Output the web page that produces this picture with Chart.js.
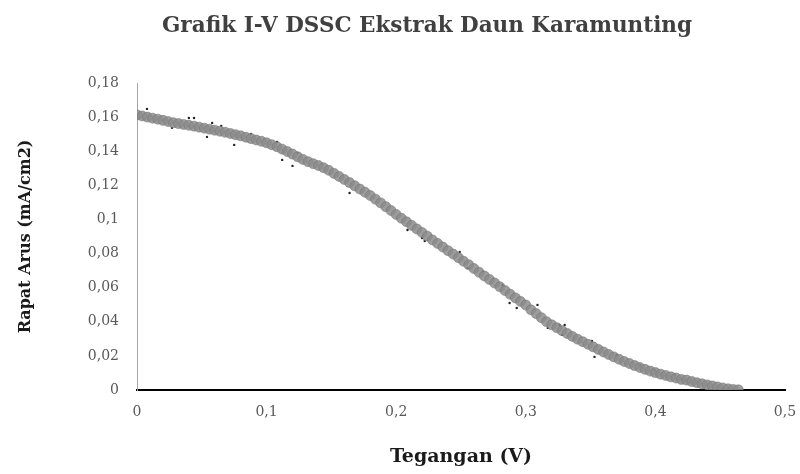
<!DOCTYPE html>
<html>
<head>
<meta charset="utf-8">
<script src="https://cdn.jsdelivr.net/npm/chart.js@4/dist/chart.umd.min.js"></script>
<style>
  html, body { margin: 0; padding: 0; background: #ffffff; }
  #wrap { width: 800px; height: 474px; }
</style>
</head>
<body>
<div id="wrap"><canvas id="c" width="800" height="474"></canvas></div>
<script>
// Title and axis texts
const chartTitle = 'Grafik I-V DSSC Ekstrak Daun Karamunting';
const xTitle = 'Tegangan (V)';
const yTitle = 'Rapat Arus (mA/cm2)';

// Tick values
const xTicks = [0, 0.1, 0.2, 0.3, 0.4, 0.5];
const yTicks = [0, 0.02, 0.04, 0.06, 0.08, 0.1, 0.12, 0.14, 0.16, 0.18];

// Measured I-V points (voltage in V, current density in mA/cm2)
const voltage = [
  0.000, 0.004, 0.008, 0.012, 0.016, 0.020, 0.024, 0.028, 0.032, 0.036,
  0.040, 0.044, 0.048, 0.052, 0.056, 0.060, 0.064, 0.068, 0.072, 0.076,
  0.080, 0.084, 0.088, 0.092, 0.096, 0.100, 0.104, 0.108, 0.112, 0.116,
  0.120, 0.124, 0.128, 0.132, 0.136, 0.140, 0.144, 0.148, 0.152, 0.156,
  0.160, 0.164, 0.168, 0.172, 0.176, 0.180, 0.184, 0.188, 0.192, 0.196,
  0.200, 0.204, 0.208, 0.212, 0.216, 0.220, 0.224, 0.228, 0.232, 0.236,
  0.240, 0.244, 0.248, 0.252, 0.256, 0.260, 0.264, 0.268, 0.272, 0.276,
  0.280, 0.284, 0.288, 0.292, 0.296, 0.300, 0.304, 0.308, 0.312, 0.316,
  0.320, 0.324, 0.328, 0.332, 0.336, 0.340, 0.344, 0.348, 0.352, 0.356,
  0.360, 0.364, 0.368, 0.372, 0.376, 0.380, 0.384, 0.388, 0.392, 0.396,
  0.400, 0.404, 0.408, 0.412, 0.416, 0.420, 0.424, 0.428, 0.432, 0.436,
  0.440, 0.444, 0.448, 0.452, 0.456, 0.460, 0.464
];
const current = [
  0.1613, 0.1607, 0.1600, 0.1594, 0.1588, 0.1581, 0.1574, 0.1567, 0.1562, 0.1557,
  0.1552, 0.1547, 0.1541, 0.1535, 0.1529, 0.1523, 0.1517, 0.1511, 0.1504, 0.1497,
  0.1490, 0.1482, 0.1474, 0.1466, 0.1458, 0.1449, 0.1438, 0.1426, 0.1412, 0.1398,
  0.1383, 0.1367, 0.1352, 0.1339, 0.1327, 0.1316, 0.1303, 0.1288, 0.1270, 0.1252,
  0.1234, 0.1216, 0.1197, 0.1178, 0.1159, 0.1140, 0.1119, 0.1097, 0.1075, 0.1052,
  0.1029, 0.1007, 0.0986, 0.0965, 0.0944, 0.0923, 0.0902, 0.0880, 0.0859, 0.0838,
  0.0817, 0.0797, 0.0776, 0.0755, 0.0734, 0.0712, 0.0690, 0.0669, 0.0648, 0.0627,
  0.0605, 0.0583, 0.0561, 0.0540, 0.0519, 0.0498, 0.0470, 0.0448, 0.0424, 0.0400,
  0.0382, 0.0365, 0.0348, 0.0331, 0.0314, 0.0298, 0.0283, 0.0268, 0.0253, 0.0238,
  0.0223, 0.0208, 0.0194, 0.0180, 0.0167, 0.0155, 0.0143, 0.0132, 0.0121, 0.0111,
  0.0102, 0.0093, 0.0085, 0.0077, 0.0070, 0.0062, 0.0058, 0.0050, 0.0043, 0.0036,
  0.0030, 0.0024, 0.0018, 0.0012, 0.0007, 0.0003, 0.0001
];

// Darker specks visible along the band
const speckV = [0.0077, 0.027, 0.040, 0.044, 0.058, 0.065, 0.054, 0.075, 0.088, 0.108,
  0.112, 0.124, 0.120, 0.164, 0.2087, 0.220, 0.222, 0.249, 0.255, 0.267,
  0.282, 0.309, 0.2875, 0.293, 0.326, 0.330, 0.317, 0.351, 0.328, 0.353,
  0.370, 0.388, 0.3995, 0.415];
const speckI = [0.1648, 0.1537, 0.1595, 0.1595, 0.1566, 0.1548, 0.1484, 0.1437, 0.1501, 0.1455,
  0.1349, 0.1390, 0.1314, 0.1155, 0.0938, 0.0891, 0.0874, 0.0809, 0.0716, 0.0692,
  0.0616, 0.0499, 0.0510, 0.0481, 0.0381, 0.0381, 0.0364, 0.0287, 0.0323, 0.0194,
  0.0205, 0.0147, 0.0117, 0.0088];

const toPts = (xs, ys) => xs.map((x, i) => ({ x: x, y: ys[i] }));
const fmt = v => String(+Number(v).toFixed(2)).replace('.', ',');

// Chart title drawn as canvas text, offset like the original
const titlePlugin = {
  id: 'offsetTitle',
  afterDraw(chart) {
    const ctx = chart.ctx;
    ctx.save();
    ctx.font = 'bold 21.5px "DejaVu Serif"';
    ctx.fillStyle = '#404040';
    ctx.textAlign = 'center';
    ctx.textBaseline = 'middle';
    ctx.fillText(chartTitle, 427, 26);
    ctx.restore();
  }
};

new Chart(document.getElementById('c'), {
  type: 'scatter',
  data: {
    datasets: [
      {
        data: toPts(voltage, current),
        pointRadius: 5,
        pointHoverRadius: 5,
        backgroundColor: 'rgba(140,140,140,0.85)',
        borderColor: 'rgba(115,115,115,0.9)',
        borderWidth: 0.6
      },
      {
        data: toPts(speckV, speckI),
        pointRadius: 1.2,
        pointHoverRadius: 1.2,
        backgroundColor: '#222222',
        borderColor: '#222222',
        borderWidth: 0
      }
    ]
  },
  plugins: [titlePlugin],
  options: {
    responsive: false,
    animation: false,
    events: [],
    layout: { padding: { left: 6, right: 15, top: 83, bottom: 6 } },
    plugins: {
      legend: { display: false },
      tooltip: { enabled: false },
      title: { display: false }
    },
    scales: {
      x: {
        type: 'linear',
        min: 0, max: 0.5,
        afterBuildTicks: s => { s.ticks = xTicks.map(v => ({ value: v })); },
        afterFit: s => { s.height = 78; s.paddingLeft = 0; s.paddingRight = 0; },
        grid: { display: false, drawTicks: false },
        border: { display: true, color: '#000000', width: 2 },
        ticks: {
          padding: 14,
          color: '#595959',
          font: { family: 'DejaVu Serif', size: 14 },
          callback: v => fmt(v),
          maxRotation: 0
        },
        title: {
          display: true,
          text: xTitle,
          color: '#1a1a1a',
          font: { family: 'DejaVu Serif', size: 19, weight: 'bold' },
          padding: { top: 4, bottom: 0 }
        }
      },
      y: {
        type: 'linear',
        min: 0, max: 0.18,
        afterBuildTicks: s => { s.ticks = yTicks.map(v => ({ value: v })); },
        afterFit: s => { s.width = 131; s.paddingTop = 0; s.paddingBottom = 0; },
        grid: { display: false, drawTicks: false },
        border: { display: true, color: '#a6a6a6', width: 1 },
        ticks: {
          padding: 18,
          color: '#595959',
          font: { family: 'DejaVu Serif', size: 14 },
          callback: v => fmt(v)
        },
        title: {
          display: true,
          text: yTitle,
          color: '#1a1a1a',
          font: { family: 'DejaVu Serif', size: 16, weight: 'bold' },
          padding: { top: 10, bottom: 0 }
        }
      }
    }
  }
});
</script>
</body>
</html>
